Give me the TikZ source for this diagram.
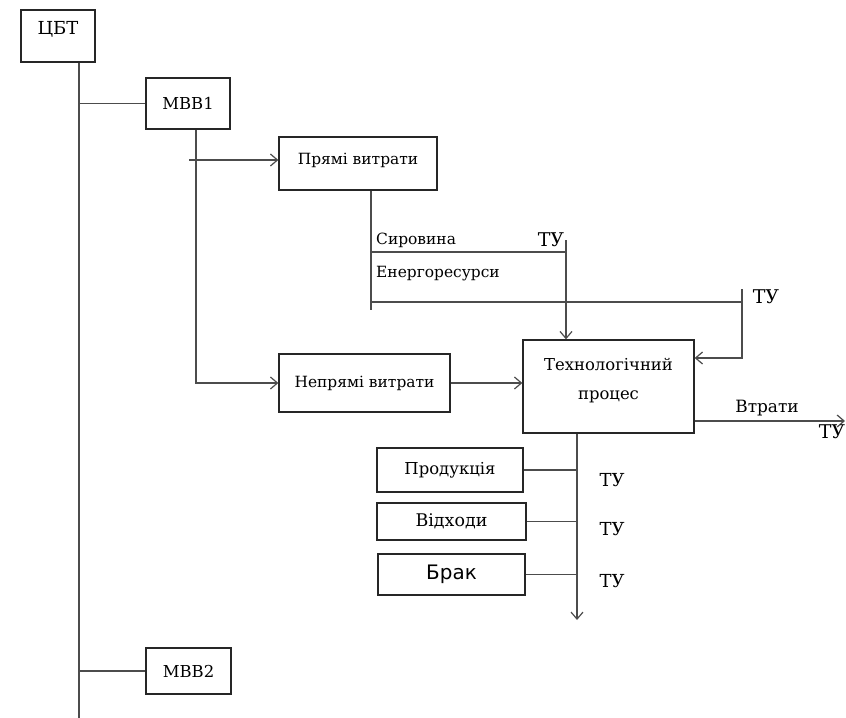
\documentclass[tikz,border=0pt]{standalone}
\usepackage{fontspec}
\setmainfont{DejaVu Serif}
\newfontfamily\sansf{DejaVu Sans}
\usetikzlibrary{arrows.meta}
\tikzset{
  box/.style={draw=black!85, line width=1.3bp, rectangle, inner sep=0pt, font=\fontsize{15.5}{19}\selectfont, align=center},
  ln/.style={draw=black!70, line width=1.2bp},
  arr/.style={ln, -{Straight Barb[length=7bp,width=12bp,line width=1.2bp]}},
  lbl/.style={font=\fontsize{15.5}{19}\selectfont, inner sep=0pt},
  tu/.style={font=\fontsize{19}{23}\selectfont, inner sep=0pt},
}
\begin{document}
\begin{tikzpicture}[x=1bp,y=-1bp]
\useasboundingbox (0,0) rectangle (846,718);
% boxes
\node[box, font=\fontsize{18}{22}\selectfont, minimum width=74bp, minimum height=52bp, text depth=17bp] (cbt) at (58,36) {ЦБТ};
\node[box, font=\fontsize{16.5}{20}\selectfont, minimum width=84bp, minimum height=51bp] (mvv1) at (188,103.5) {МВВ1};
\node[box, minimum width=158bp, minimum height=53bp, text depth=10bp] (pryami) at (358,163.5) {Прямі витрати};
\node[box, minimum width=171bp, minimum height=58bp] (nepr) at (364.5,383) {Непрямі витрати};
\node[box, font=\fontsize{16.5}{29}\selectfont, minimum width=171bp, minimum height=93bp, text depth=16bp] (tech) at (608.5,386.5) {Технологічний\\процес};
\node[box, font=\fontsize{16.5}{20}\selectfont, minimum width=146bp, minimum height=44bp] (prod) at (450,470) {Продукція};
\node[box, font=\fontsize{17.5}{21}\selectfont, minimum width=149bp, minimum height=37bp] (vidh) at (451.5,521.5) {Відходи};
\node[box, minimum width=147bp, minimum height=41bp, font=\sansf\fontsize{20}{24}\selectfont] (brak) at (451.5,574.5) {Брак};
\node[box, font=\fontsize{16.5}{20}\selectfont, minimum width=85bp, minimum height=46bp] (mvv2) at (188.5,671) {МВВ2};
% coordinates
\coordinate (trunk) at (79,718);
\coordinate (m1) at (196,0);
\coordinate (a0) at (189,160);
\coordinate (pv) at (371,310);
\coordinate (s1) at (371,252);
\coordinate (s2) at (566,252);
\coordinate (s3) at (566,240);
\coordinate (e1) at (371,302);
\coordinate (e2) at (742,302);
\coordinate (e3) at (742,289);
\coordinate (e4) at (742,358);
\coordinate (l0) at (0,421);
\coordinate (l1) at (845,421);
\coordinate (d0) at (577,620);
% connectors
\draw[ln] (trunk |- cbt.south) -- (trunk);
\draw[ln] (mvv1.west) -- (mvv1.west -| trunk);
\draw[ln] (mvv2.west) -- (mvv2.west -| trunk);
\draw[arr] (mvv1.south -| m1) |- (nepr.west);
\draw[arr] (a0) -- (a0 -| pryami.west);
\draw[ln] (pv |- pryami.south) -- (pv);
\draw[ln] (s1) -- (s2);
\draw[arr] (s3) -- (s3 |- tech.north);
\draw[ln] (e1) -- (e2);
\draw[arr] (e3) -- (e4) -- (e4 -| tech.east);
\draw[arr] (nepr.east) -- (nepr.east -| tech.west);
\draw[arr] (l0 -| tech.east) -- (l1);
\draw[arr] (d0 |- tech.south) -- (d0);
\draw[ln] (prod.east) -- (prod.east -| d0);
\draw[ln] (vidh.east) -- (vidh.east -| d0);
\draw[ln] (brak.east) -- (brak.east -| d0);
% labels
\node[lbl, anchor=west] (tsyr) at (376,240) {Сировина};
\node[tu] (tu1) at (551,240) {ТУ};
\node[lbl, anchor=west] (tener) at (376,274) {Енергоресурси};
\node[tu] (tu2) at (766,297) {ТУ};
\node[lbl, font=\fontsize{17}{20}\selectfont] (tvtr) at (767,408) {Втрати};
\node[tu] (tu3) at (832,432) {ТУ};
\node[tu, font=\fontsize{18}{22}\selectfont] (tu4) at (612,480) {ТУ};
\node[tu, font=\fontsize{18}{22}\selectfont] (tu5) at (612,529) {ТУ};
\node[tu, font=\fontsize{18}{22}\selectfont] (tu6) at (612,581) {ТУ};
\end{tikzpicture}
\end{document}
